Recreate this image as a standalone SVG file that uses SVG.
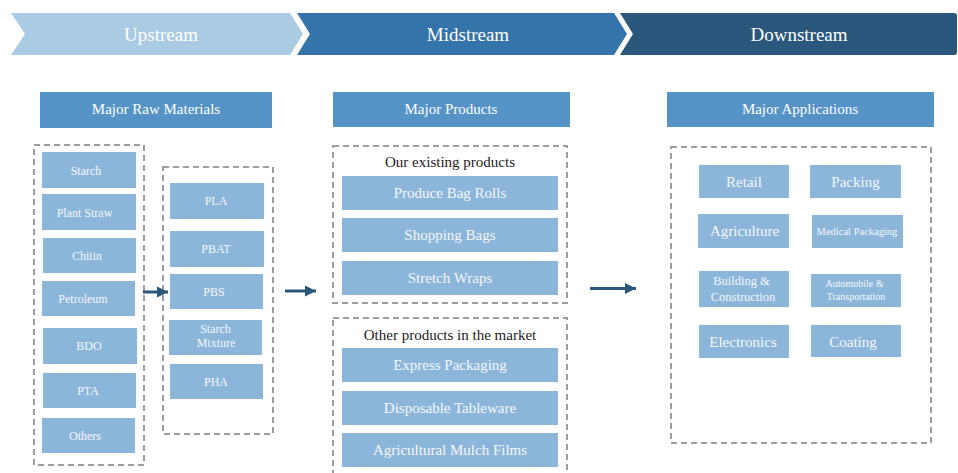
<svg xmlns="http://www.w3.org/2000/svg" width="958" height="473" viewBox="0 0 958 473">
  <style>
    text { font-family: "Liberation Serif", "Times New Roman", serif; text-anchor: middle; }
    .stage { fill: #ffffff; font-size: 19px; }
    .hdr { fill: #5593c7; }
    .hdr-t { fill: #ffffff; font-size: 15px; }
    .box { fill: #8cb5da; }
    .bt { fill: #f4f8fc; font-size: 12px; }
    .bm { fill: #f4f8fc; font-size: 15px; }
    .cap { fill: #1a1a1a; font-size: 15px; }
    .dash { fill: none; stroke: #9d9d9d; stroke-width: 2; stroke-dasharray: 6 4; }
    .conn { stroke: #2c577c; stroke-width: 3; fill: none; }
  </style>
  <defs>
    <marker id="arrow" markerUnits="userSpaceOnUse" markerWidth="12" markerHeight="12" refX="11" refY="6" orient="auto">
      <path d="M0,0.5 L11,6 L0,11.5 Z" fill="#2c577c"/>
    </marker>
  </defs>

  <rect width="958" height="473" fill="#ffffff"/>

  <!-- value chain stages -->
  <g id="stage-upstream">
    <path d="M11,13 L290,13 L303,34 L290,55 L11,55 L25,34 Z" fill="#abcbe2"/>
    <text class="stage" x="161" y="41">Upstream</text>
  </g>
  <g id="stage-midstream">
    <path d="M297,13 L614,13 L627,34 L614,55 L297,55 L310,34 Z" fill="#3574ab"/>
    <text class="stage" x="468" y="41">Midstream</text>
  </g>
  <g id="stage-downstream">
    <path d="M620,13 L954,13 Q957,13 957,16 L957,52 Q957,55 954,55 L620,55 L633,34 Z" fill="#2c577c"/>
    <text class="stage" x="799" y="41">Downstream</text>
  </g>

  <!-- column headers -->
  <g id="hdr-raw">
    <rect class="hdr" x="40" y="92" width="232" height="36"/>
    <text class="hdr-t" x="156" y="114">Major Raw Materials</text>
  </g>
  <g id="hdr-products">
    <rect class="hdr" x="333" y="92" width="237" height="35"/>
    <text class="hdr-t" x="451" y="114">Major Products</text>
  </g>
  <g id="hdr-apps">
    <rect class="hdr" x="667" y="92" width="267" height="35"/>
    <text class="hdr-t" x="800" y="114">Major Applications</text>
  </g>

  <!-- raw materials -->
  <g id="raw-materials">
    <rect class="dash" x="34" y="145" width="110" height="320"/>
    <g id="raw-starch"><rect class="box" x="42" y="152" width="94" height="36"/><text class="bt" x="86" y="175">Starch</text></g>
    <g id="raw-straw"><rect class="box" x="42" y="194" width="94" height="36"/><text class="bt" x="84.5" y="217">Plant Straw</text></g>
    <g id="raw-chitin"><rect class="box" x="43" y="238" width="93" height="35"/><text class="bt" x="87" y="260">Chitin</text></g>
    <g id="raw-petroleum"><rect class="box" x="42" y="281" width="93" height="35"/><text class="bt" x="83" y="303">Petroleum</text></g>
    <g id="raw-bdo"><rect class="box" x="43" y="328" width="94" height="36"/><text class="bt" x="89" y="350">BDO</text></g>
    <g id="raw-pta"><rect class="box" x="43" y="373" width="93" height="35"/><text class="bt" x="88" y="395">PTA</text></g>
    <g id="raw-others"><rect class="box" x="42" y="418" width="93" height="35"/><text class="bt" x="85" y="440">Others</text></g>
  </g>

  <!-- polymers -->
  <g id="polymers">
    <rect class="dash" x="163" y="167" width="110" height="267"/>
    <g id="pol-pla"><rect class="box" x="170" y="183" width="94" height="36"/><text class="bt" x="216" y="205">PLA</text></g>
    <g id="pol-pbat"><rect class="box" x="170" y="231" width="94" height="36"/><text class="bt" x="216" y="253">PBAT</text></g>
    <g id="pol-pbs"><rect class="box" x="170" y="274" width="93" height="35"/><text class="bt" x="214" y="296">PBS</text></g>
    <g id="pol-starch-mix"><rect class="box" x="169" y="320" width="93" height="35"/><text class="bt" x="215.5" y="333">Starch</text><text class="bt" x="216" y="347">Mixture</text></g>
    <g id="pol-pha"><rect class="box" x="170" y="364" width="93" height="35"/><text class="bt" x="216" y="386">PHA</text></g>
  </g>

  <!-- existing products -->
  <g id="existing-products">
    <rect class="dash" x="333" y="146" width="234" height="157"/>
    <text class="cap" x="450" y="167">Our existing products</text>
    <g id="prod-bag-rolls"><rect class="box" x="342" y="176" width="216" height="34"/><text class="bm" x="450" y="198">Produce Bag Rolls</text></g>
    <g id="prod-shopping"><rect class="box" x="342" y="218" width="216" height="34"/><text class="bm" x="450" y="240">Shopping Bags</text></g>
    <g id="prod-stretch"><rect class="box" x="342" y="261" width="216" height="34"/><text class="bm" x="450" y="283">Stretch Wraps</text></g>
  </g>

  <!-- other market products -->
  <g id="market-products">
    <rect class="dash" x="333" y="318" width="234" height="170"/>
    <text class="cap" x="450" y="340">Other products in the market</text>
    <g id="prod-express"><rect class="box" x="342" y="348" width="216" height="34"/><text class="bm" x="450" y="370">Express Packaging</text></g>
    <g id="prod-tableware"><rect class="box" x="342" y="391" width="216" height="34"/><text class="bm" x="450" y="413">Disposable Tableware</text></g>
    <g id="prod-mulch"><rect class="box" x="342" y="433" width="216" height="34"/><text class="bm" x="450" y="455">Agricultural Mulch Films</text></g>
  </g>

  <!-- applications -->
  <g id="applications">
    <rect class="dash" x="671" y="147" width="260" height="296"/>
    <g id="app-retail"><rect class="box" x="699" y="165" width="90" height="33"/><text class="bm" x="744" y="186.5">Retail</text></g>
    <g id="app-packing"><rect class="box" x="810" y="165" width="91" height="33"/><text class="bm" x="855.5" y="186.5">Packing</text></g>
    <g id="app-agriculture"><rect class="box" x="698" y="214" width="91" height="34"/><text class="bm" x="744.5" y="236">Agriculture</text></g>
    <g id="app-medical"><rect class="box" x="812" y="215" width="91" height="33"/><text class="bt" style="font-size:10.5px" x="857" y="235">Medical Packaging</text></g>
    <g id="app-building"><rect class="box" x="699" y="271" width="90" height="36"/><text class="bt" style="font-size:12.5px" x="741.5" y="285">Building &amp;</text><text class="bt" style="font-size:12.5px" x="743" y="301">Construction</text></g>
    <g id="app-auto"><rect class="box" x="811" y="274" width="90" height="33"/><text class="bt" style="font-size:10px" x="854.5" y="287">Automobile &amp;</text><text class="bt" style="font-size:10px" x="856" y="300">Transportation</text></g>
    <g id="app-electronics"><rect class="box" x="699" y="325" width="90" height="33"/><text class="bm" x="743" y="346.5">Electronics</text></g>
    <g id="app-coating"><rect class="box" x="811" y="325" width="90" height="32"/><text class="bm" x="853" y="346.5">Coating</text></g>
  </g>

  <!-- flow connectors -->
  <g id="connectors">
    <line class="conn" x1="143" y1="292" x2="168" y2="292" marker-end="url(#arrow)"/>
    <line class="conn" x1="285" y1="291" x2="316" y2="291" marker-end="url(#arrow)"/>
    <line class="conn" x1="590" y1="288.5" x2="636" y2="288.5" marker-end="url(#arrow)"/>
  </g>
</svg>
